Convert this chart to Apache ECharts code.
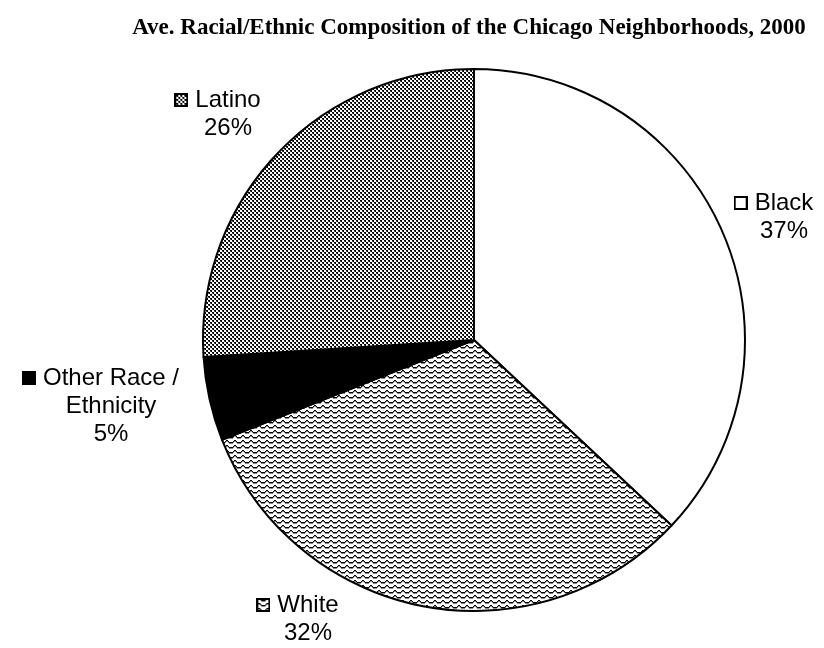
<!DOCTYPE html>
<html>
<head>
<meta charset="utf-8">
<script src="https://cdn.jsdelivr.net/npm/echarts@6/dist/echarts.min.js"></script>
<style>
html,body{margin:0;padding:0;background:#fff;}
#chart{width:824px;height:648px;}
</style>
</head>
<body>
<div id="chart"></div>
<script>
// Neighborhood composition, 2000 (percent)
const groups = ['Black', 'White', 'Other Race /\nEthnicity', 'Latino'];
const shares = [37, 32, 5, 26];
const fills = ['blank', 'wave', 'solid', 'dots'];

// Pixel tiles for the monochrome fills
function makeTile(w, h, draw) {
  const c = document.createElement('canvas');
  c.width = w; c.height = h;
  const g = c.getContext('2d');
  g.fillStyle = '#fff';
  g.fillRect(0, 0, w, h);
  draw(g);
  return c;
}
const dotsTile = makeTile(4, 4, g => {
  g.fillStyle = '#000';
  g.fillRect(0, 0, 2, 1);
  g.fillRect(1, 1, 1, 1);
  g.fillRect(2, 2, 2, 1);
  g.fillRect(3, 3, 1, 1);
  g.fillStyle = '#555';
  g.fillRect(0, 1, 1, 1);
  g.fillRect(2, 3, 1, 1);
});
const waveTile = makeTile(8, 5, g => {
  const ys = [2, 1, 0, 0, 1, 2, 2, 2];
  for (let x = 0; x < 8; x++) {
    g.fillStyle = '#000';
    g.fillRect(x, ys[x], 1, 1);
    g.fillStyle = '#888';
    g.fillRect(x, ys[x] + 1, 1, 1);
  }
});

function fillFor(kind) {
  if (kind === 'dots') return { image: dotsTile, repeat: 'repeat' };
  if (kind === 'wave') return { image: waveTile, repeat: 'repeat' };
  if (kind === 'solid') return '#000';
  return '#fff';
}

// Little key squares drawn in front of each label
const KEY = 14;
function makeKey(kind) {
  const s = KEY;
  const c = document.createElement('canvas');
  c.width = s; c.height = s;
  const g = c.getContext('2d');
  g.fillStyle = '#fff';
  g.fillRect(0, 0, s, s);
  if (kind === 'solid') {
    g.fillStyle = '#000'; g.fillRect(0, 0, s, s);
  } else if (kind !== 'blank') {
    g.fillStyle = g.createPattern(kind === 'dots' ? dotsTile : waveTile, 'repeat');
    g.fillRect(0, 0, s, s);
  }
  g.strokeStyle = '#000';
  g.lineWidth = 2;
  g.strokeRect(1, 1, s - 2, s - 2);
  return c;
}

const rich = {};
fills.forEach(k => {
  rich['k_' + k] = { width: KEY, height: KEY, backgroundColor: { image: makeKey(k) } };
});
rich.t = { fontFamily: 'Liberation Sans, Arial, sans-serif', fontSize: 24, lineHeight: 28, color: '#000' };
rich.gap = { width: 7 };
rich.sp = { width: KEY + 7 };

const data = groups.map((name, i) => ({
  name,
  value: shares[i],
  itemStyle: { color: fillFor(fills[i]) }
}));

// label anchor points (canvas px)
const labelSpots = [[784, 217], [308, 619], [111, 406], [228, 114]];

const chart = echarts.init(document.getElementById('chart'), null, { renderer: 'canvas' });
chart.setOption({
  animation: false,
  backgroundColor: '#fff',
  title: {
    text: 'Ave. Racial/Ethnic Composition of the Chicago Neighborhoods, 2000',
    left: 464,
    top: 12,
    textAlign: 'center',
    textStyle: { fontFamily: 'Liberation Serif, Times New Roman, serif', fontWeight: 'bold', fontSize: 23, color: '#000' }
  },
  series: [{
    type: 'pie',
    center: [474, 340],
    radius: 271,
    startAngle: 90,
    clockwise: true,
    avoidLabelOverlap: false,
    itemStyle: { borderColor: '#000', borderWidth: 2 },
    emphasis: { disabled: true },
    labelLine: { show: false },
    label: {
      show: true,
      position: 'outside',
      align: 'center',
      formatter: p => {
        const k = fills[p.dataIndex];
        const lines = p.name.split('\n');
        const first = '{k_' + k + '|}{gap|}{t|' + lines[0] + '}{sp|}';
        const rest = lines.slice(1).map(l => '{t|' + l + '}');
        return [first].concat(rest, ['{t|' + p.value + '%}']).join('\n');
      },
      rich
    },
    labelLayout: p => ({
      x: labelSpots[p.dataIndex][0],
      y: labelSpots[p.dataIndex][1],
      align: 'center',
      verticalAlign: 'middle'
    }),
    data
  }]
});
</script>
</body>
</html>
